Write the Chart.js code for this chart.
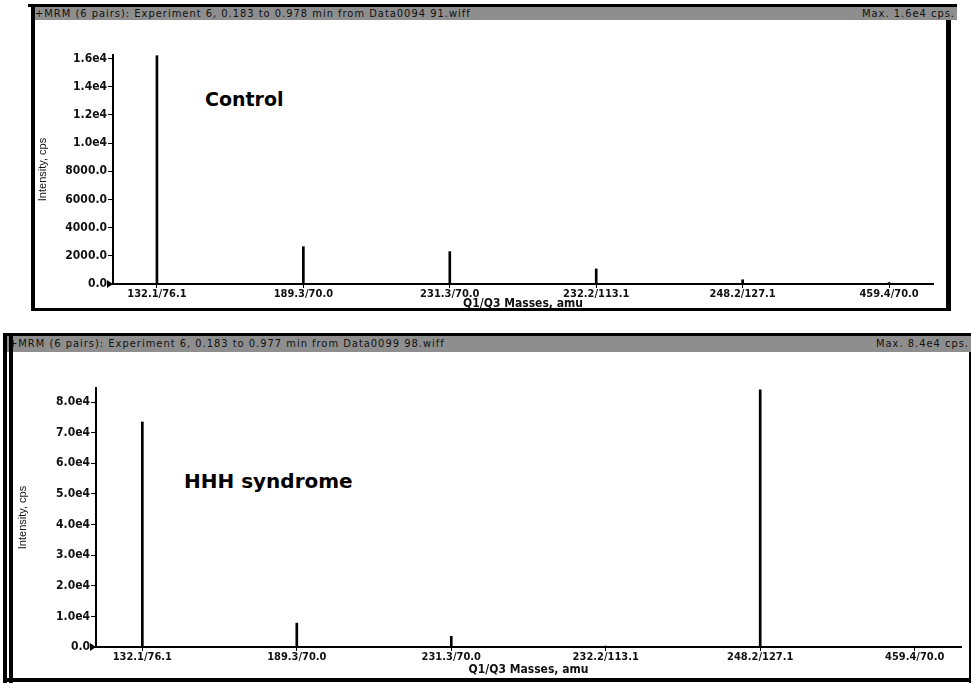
<!DOCTYPE html>
<html>
<head>
<meta charset="utf-8">
<script src="https://cdn.jsdelivr.net/npm/chart.js@4.4.1/dist/chart.umd.min.js"></script>
<style>
  body { margin: 0; background: #fff; width: 971px; height: 684px; position: relative; overflow: hidden; }
  .blk { position: absolute; background: #000; }
  .bar { position: absolute; background: #8e8e8e; color: #111; font: 11px 'DejaVu Sans Condensed', 'DejaVu Sans', sans-serif; line-height: 14px; letter-spacing: 1px; white-space: nowrap; overflow: hidden; }
  .bar .l { position: absolute; left: 4px; top: 0; }
  .bar .r { position: absolute; right: 2px; top: 0; }
  .lbl { position: absolute; font: bold 19px 'DejaVu Sans', sans-serif; color: #000; white-space: nowrap; }
  canvas { position: absolute; }
</style>
</head>
<body>

<!-- top panel frame -->
<div class="blk" style="left:28px;top:4px;width:929px;height:3px"></div>
<div class="bar" style="left:31px;top:7px;width:926px;height:13px">
  <span class="l">+MRM (6 pairs): Experiment 6, 0.183 to 0.978 min from Data0094 91.wiff</span>
  <span class="r">Max. 1.6e4 cps.</span>
</div>
<div class="blk" style="left:31px;top:4px;width:4px;height:307px"></div>
<div class="blk" style="left:946px;top:20px;width:5px;height:291px"></div>
<div class="blk" style="left:31px;top:308px;width:920px;height:3px"></div>
<div class="lbl" style="left:205px;top:88px">Control</div>
<canvas id="top" width="908" height="292" style="left:36px;top:20px"></canvas>

<!-- bottom panel frame -->
<div class="blk" style="left:3px;top:333px;width:968px;height:3px"></div>
<div class="bar" style="left:3px;top:336px;width:968px;height:16px;line-height:16px">
  <span class="l" style="left:6px">+MRM (6 pairs): Experiment 6, 0.183 to 0.977 min from Data0099 98.wiff</span>
  <span class="r">Max. 8.4e4 cps.</span>
</div>
<div class="blk" style="left:3px;top:333px;width:4px;height:350px"></div>
<div class="blk" style="left:9px;top:333px;width:4px;height:350px"></div>
<div class="blk" style="left:3px;top:678px;width:968px;height:4px"></div>
<div class="blk" style="left:969px;top:352px;width:2px;height:331px"></div>
<div class="lbl" style="left:184px;top:469px;font-size:20px">HHH syndrome</div>
<canvas id="bottom" width="955" height="324" style="left:14px;top:354px"></canvas>

<script>
// Q1/Q3 transitions
var transitions = ['132.1/76.1', '189.3/70.0', '231.3/70.0', '232.2/113.1', '248.2/127.1', '459.4/70.0'];

// intensities, cps
var controlValues = [16200, 2650, 2300, 1070, 300, 100];
var hhhValues     = [73500, 7800, 3500, 300, 84000, 250];

// y ticks
var controlTicks = [0, 2000, 4000, 6000, 8000, 10000, 12000, 14000, 16000];
var hhhTicks     = [0, 10000, 20000, 30000, 40000, 50000, 60000, 70000, 80000];

var tickFont = { family: "'DejaVu Sans Condensed', 'DejaVu Sans', sans-serif", weight: 'bold' };

function fmtY(v) {
    if (v >= 10000) return (v / 10000).toFixed(1) + 'e4';
    return v.toFixed(1);
}

// little black arrow at the origin, as in the Analyst plots
var originArrow = {
    id: 'originArrow',
    afterDraw: function(chart) {
        var ctx = chart.ctx, a = chart.chartArea;
        ctx.save();
        ctx.fillStyle = '#000';
        ctx.beginPath();
        ctx.moveTo(a.left - 6, a.bottom - 4);
        ctx.lineTo(a.left, a.bottom);
        ctx.lineTo(a.left - 6, a.bottom + 4);
        ctx.closePath();
        ctx.fill();
        ctx.restore();
    }
};

function makeChart(id, values, yTicks, yMax, g) {
    var ctx = document.getElementById(id).getContext('2d');
    return new Chart(ctx, {
        type: 'bar',
        data: {
            datasets: [{
                data: values.map(function(v, i) { return { x: i, y: v }; }),
                backgroundColor: '#000',
                borderWidth: 0,
                barThickness: 2
            }]
        },
        options: {
            responsive: false,
            animation: false,
            layout: { padding: { left: 0, right: g.padRight, top: g.padTop, bottom: 0 } },
            plugins: { legend: { display: false }, tooltip: { enabled: false } },
            scales: {
                x: {
                    type: 'linear',
                    min: -0.3,
                    max: transitions.length - 0.7,
                    offset: false,
                    grid: { offset: false, drawOnChartArea: false, drawTicks: true, tickLength: 4, color: '#000' },
                    border: { display: true, color: '#000', width: 2 },
                    afterBuildTicks: function(s) { s.ticks = transitions.map(function(t, i) { return { value: i }; }); },
                    afterFit: function(s) { s.height = g.xHeight; },
                    ticks: {
                        color: '#111', padding: 0, maxRotation: 0, autoSkip: false,
                        font: Object.assign({ size: 11 }, tickFont),
                        callback: function(v) { return transitions[v]; }
                    },
                    title: {
                        display: true, text: 'Q1/Q3 Masses, amu', color: '#111',
                        font: Object.assign({ size: 12 }, tickFont),
                        padding: { top: 0, bottom: 1 }
                    }
                },
                y: {
                    min: 0,
                    max: yMax,
                    grid: { drawOnChartArea: false, drawTicks: true, tickLength: 5, color: '#000' },
                    border: { display: true, color: '#000', width: 2 },
                    afterBuildTicks: function(s) { s.ticks = yTicks.map(function(v) { return { value: v }; }); },
                    afterFit: function(s) { s.width = g.yWidth; },
                    ticks: {
                        color: '#111', padding: 1,
                        font: Object.assign({ size: 12 }, tickFont),
                        callback: function(v) { return fmtY(v); }
                    },
                    title: {
                        display: true, text: 'Intensity, cps', color: '#111',
                        font: { family: "'Liberation Sans', Arial, sans-serif", size: 11 },
                        padding: { top: g.yTitlePad, bottom: 0 }
                    }
                }
            }
        },
        plugins: [originArrow]
    });
}

makeChart('top', controlValues, controlTicks, 16250,
    { padRight: 11, padTop: 35, xHeight: 28, yWidth: 77, yTitlePad: 0 });
makeChart('bottom', hhhValues, hhhTicks, 84600,
    { padRight: 8, padTop: 34, xHeight: 31, yWidth: 82, yTitlePad: 2 });
</script>
</body>
</html>
